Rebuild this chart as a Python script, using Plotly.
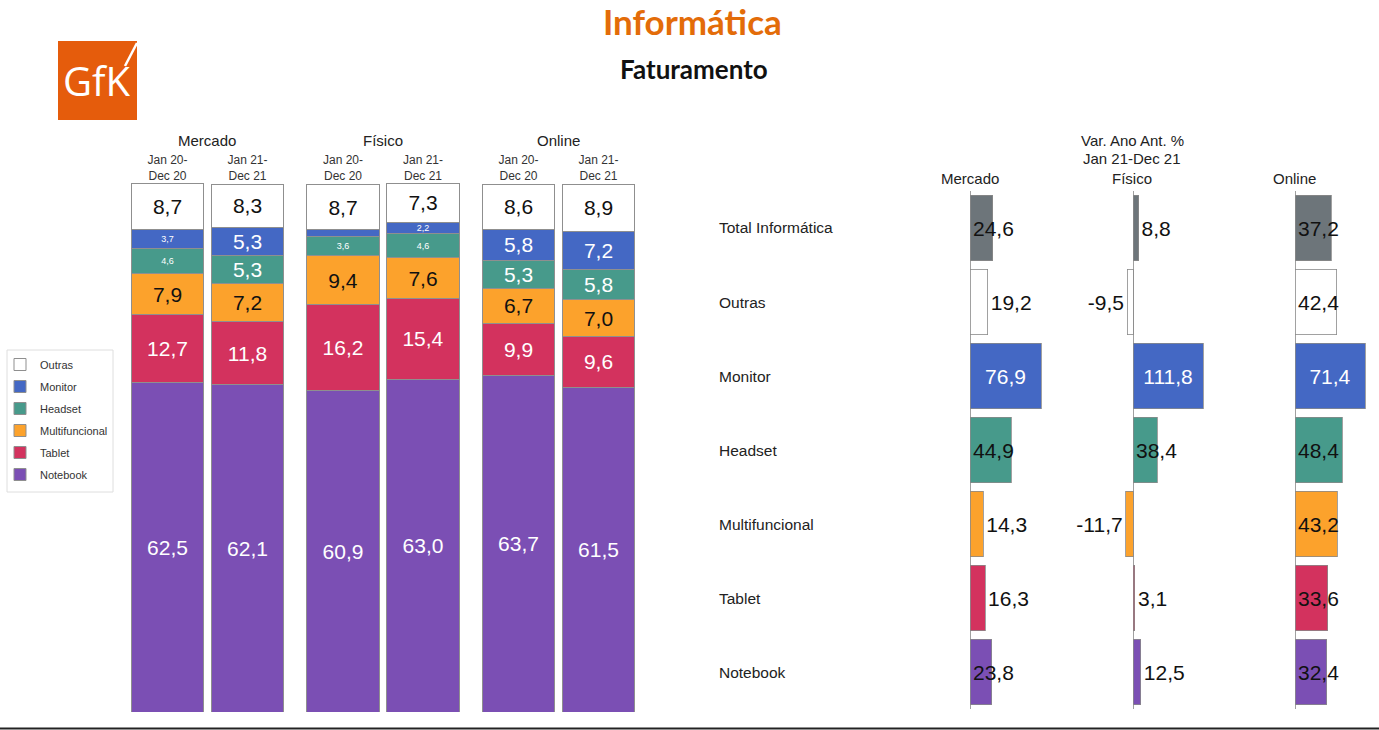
import plotly.graph_objects as go

W, H = 1379, 730

# ---------------- data ----------------
channels = ["Mercado", "Físico", "Online"]
periods = ["Jan 20-<br>Dec 20", "Jan 21-<br>Dec 21"]
segments = ["Notebook", "Tablet", "Multifuncional", "Headset", "Monitor", "Outras"]

# share of revenue (%), order: Mercado 20, Mercado 21, Físico 20, Físico 21, Online 20, Online 21
notebook_share = [62.5, 62.1, 60.9, 63.0, 63.7, 61.5]
tablet_share = [12.7, 11.8, 16.2, 15.4, 9.9, 9.6]
multifuncional_share = [7.9, 7.2, 9.4, 7.6, 6.7, 7.0]
headset_share = [4.6, 5.3, 3.6, 4.6, 5.3, 5.8]
monitor_share = [3.7, 5.3, 1.2, 2.2, 5.8, 7.2]
outras_share = [8.7, 8.3, 8.7, 7.3, 8.6, 8.9]

var_categories = ["Total Informática", "Outras", "Monitor", "Headset",
                  "Multifuncional", "Tablet", "Notebook"]
var_mercado = [24.6, 19.2, 76.9, 44.9, 14.3, 16.3, 23.8]
var_fisico = [8.8, -9.5, 111.8, 38.4, -11.7, 3.1, 12.5]
var_online = [37.2, 42.4, 71.4, 48.4, 43.2, 33.6, 32.4]

# ---------------- styles ----------------
seg_colors = {
    "Notebook": "#7B4FB4",
    "Tablet": "#D3325E",
    "Multifuncional": "#FCA22C",
    "Headset": "#479A8B",
    "Monitor": "#4468C4",
    "Outras": "#FFFFFF",
}
seg_text_color = {
    "Notebook": "white", "Tablet": "white", "Multifuncional": "#111111",
    "Headset": "white", "Monitor": "white", "Outras": "#111111",
}
cat_colors = {
    "Total Informática": "#6D757A", "Outras": "#FFFFFF", "Monitor": "#4468C4",
    "Headset": "#479A8B", "Multifuncional": "#FCA22C", "Tablet": "#D3325E",
    "Notebook": "#7B4FB4",
}
# label placement per category in each right panel
lab_mercado = ["start", "out", "mid", "start", "out", "out", "start"]
lab_fisico = ["out", "out", "mid", "start", "out", "out", "out"]
lab_online = ["start", "start", "mid", "start", "start", "start", "start"]

FONT = "Liberation Sans, Arial, sans-serif"


def px(x):
    return x / W


def py(y):
    return 1 - y / H


def fmt(v):
    return f"{v:.1f}".replace(".", ",")


shares = {
    "Notebook": notebook_share, "Tablet": tablet_share,
    "Multifuncional": multifuncional_share, "Headset": headset_share,
    "Monitor": monitor_share, "Outras": outras_share,
}

fig = go.Figure()

# ---------------- left: stacked share bars ----------------
left_domains = [(127.5, 287.5), (303, 463), (478.5, 638.5)]
for i, ch in enumerate(channels):
    ax = "" if i == 0 else str(i + 1)
    for k, seg in enumerate(segments):
        vals = shares[seg][2 * i:2 * i + 2]
        texts = [fmt(v) if v >= 2 else "" for v in vals]
        sizes = [21 if v >= 5 else 9 for v in vals]
        fig.add_trace(go.Bar(
            x=periods, y=vals, name=seg, legendgroup=seg,
            legendrank=100 - k,
            showlegend=(i == 0),
            xaxis="x" + ax, yaxis="y" + ax,
            marker=dict(color=seg_colors[seg], line=dict(color="#8f8f8f", width=1)),
            width=0.91,
            text=texts, textposition="inside", insidetextanchor="middle",
            textangle=0, constraintext="none",
            textfont=dict(family=FONT, size=sizes, color=seg_text_color[seg]),
            hoverinfo="skip",
        ))

# ---------------- right: variation bars ----------------
right_panels = [
    (var_mercado, lab_mercado, (940, 1090), 970, 71 / 76.9),
    (var_fisico, lab_fisico, (1080, 1250), 1133, 70 / 111.8),
    (var_online, lab_online, (1260, 1375), 1295, 70 / 71.4),
]
for j, (vals, labs, dom, axis_px, ppu) in enumerate(right_panels):
    n = j + 4
    for cat, v, lab in zip(var_categories, vals, labs):
        if lab == "out":
            tp, anchor, col = "outside", "start", "#111111"
        elif lab == "start":
            tp, anchor, col = "inside", "start", "#111111"
        else:
            tp, anchor, col = "inside", "middle", "white"
        fig.add_trace(go.Bar(
            x=[v], y=[cat], orientation="h", showlegend=False,
            xaxis=f"x{n}", yaxis=f"y{n}",
            marker=dict(color=cat_colors[cat], line=dict(color="#8a8a8a", width=0.8)),
            width=0.89,
            text=[fmt(v)], textposition=tp, insidetextanchor=anchor,
            textangle=0, constraintext="none", cliponaxis=False,
            textfont=dict(family=FONT, size=21, color=col),
            hoverinfo="skip",
        ))

layout = dict(
    width=W, height=H,
    margin=dict(l=0, r=0, t=0, b=0),
    paper_bgcolor="white", plot_bgcolor="rgba(0,0,0,0)",
    barmode="stack",
    font=dict(family=FONT, color="#222222"),
    showlegend=True,
    legend=dict(
        x=0, y=py(350), xanchor="left", yanchor="top",
        traceorder="grouped", tracegroupgap=3,
        borderwidth=0, bgcolor="rgba(0,0,0,0)",
        font=dict(family=FONT, size=11, color="#333333"),
        itemwidth=30, itemclick=False, itemdoubleclick=False,
    ),
)

ydom_left = [py(712), py(183)]
for i, (a, b) in enumerate(left_domains):
    ax = "" if i == 0 else str(i + 1)
    layout["xaxis" + ax] = dict(
        domain=[px(a), px(b)], anchor="y" + ax, type="category", side="top",
        showgrid=False, zeroline=False, showline=False, ticks="",
        tickfont=dict(family=FONT, size=12, color="#333333"), fixedrange=True,
    )
    layout["yaxis" + ax] = dict(
        domain=ydom_left, anchor="x" + ax, range=[0, 100.2], visible=False,
        fixedrange=True,
    )

ydom_right = [py(709), py(191)]
for j, (vals, labs, dom, axis_px, ppu) in enumerate(right_panels):
    n = j + 4
    lo = -(axis_px - dom[0]) / ppu
    hi = (dom[1] - axis_px) / ppu
    layout[f"xaxis{n}"] = dict(
        domain=[px(dom[0]), px(dom[1])], anchor=f"y{n}", range=[lo, hi],
        showgrid=False, showticklabels=False, showline=False, ticks="",
        zeroline=True, zerolinecolor="#a0a0a0", zerolinewidth=1, fixedrange=True,
    )
    layout[f"yaxis{n}"] = dict(
        domain=ydom_right, anchor=f"x{n}", type="category",
        categoryorder="array", categoryarray=var_categories,
        autorange="reversed", visible=False, fixedrange=True,
    )

fig.update_layout(**layout)

ann = []
# titles
ann.append(dict(text="<b>Informática</b>", x=px(692), y=py(21), xref="paper", yref="paper",
                showarrow=False, xanchor="center", yanchor="middle",
                font=dict(family="Lato, Open Sans, sans-serif", size=35, color="#E36C09")))
ann.append(dict(text="<b>Faturamento</b>", x=px(694), y=py(69), xref="paper", yref="paper",
                showarrow=False, xanchor="center", yanchor="middle",
                font=dict(family="Lato, Open Sans, sans-serif", size=26, color="#111111")))
# left group headers
for ch, (a, b) in zip(channels, left_domains):
    ann.append(dict(text=ch, x=px((a + b) / 2), y=py(140), xref="paper", yref="paper",
                    showarrow=False, xanchor="center", yanchor="middle",
                    font=dict(family=FONT, size=15, color="#222222")))
# right headers
for txt, x, y in [("Var. Ano Ant. %", 1132, 140), ("Jan 21-Dec 21", 1132, 159),
                  ("Mercado", 970, 178), ("Físico", 1132, 178), ("Online", 1294, 178)]:
    ann.append(dict(text=txt, x=px(x), y=py(y), xref="paper", yref="paper",
                    showarrow=False, xanchor="center", yanchor="middle",
                    font=dict(family=FONT, size=15, color="#222222")))
# right category labels
for cat in var_categories:
    ann.append(dict(text=cat, x=px(717), y=cat, xref="paper", yref="y4",
                    showarrow=False, xanchor="left", yanchor="middle",
                    font=dict(family=FONT, size=15.5, color="#222222")))
# logo text
ann.append(dict(text="GfK", x=px(97), y=py(80), xref="paper", yref="paper",
                showarrow=False, xanchor="center", yanchor="middle",
                font=dict(family="Open Sans, sans-serif", size=40, color="white")))

fig.update_layout(annotations=ann)

fig.update_layout(shapes=[
    dict(type="rect", xref="paper", yref="paper", x0=px(58), x1=px(137), y0=py(120), y1=py(41),
         fillcolor="#E55C0C", line=dict(width=0), layer="below"),
    dict(type="line", xref="paper", yref="paper", x0=px(125), y0=py(66), x1=px(137), y1=py(43),
         line=dict(color="white", width=2.5)),
    # legend frame
    dict(type="rect", xref="paper", yref="paper", x0=px(7), x1=px(113), y0=py(492), y1=py(350),
         line=dict(color="#dedede", width=1), fillcolor="rgba(0,0,0,0)", layer="below"),
    dict(type="line", xref="paper", yref="paper", x0=0, x1=1, y0=py(728.5), y1=py(728.5),
         line=dict(color="#222222", width=2)),
])

fig.write_html("out.html", config={"displayModeBar": False})
